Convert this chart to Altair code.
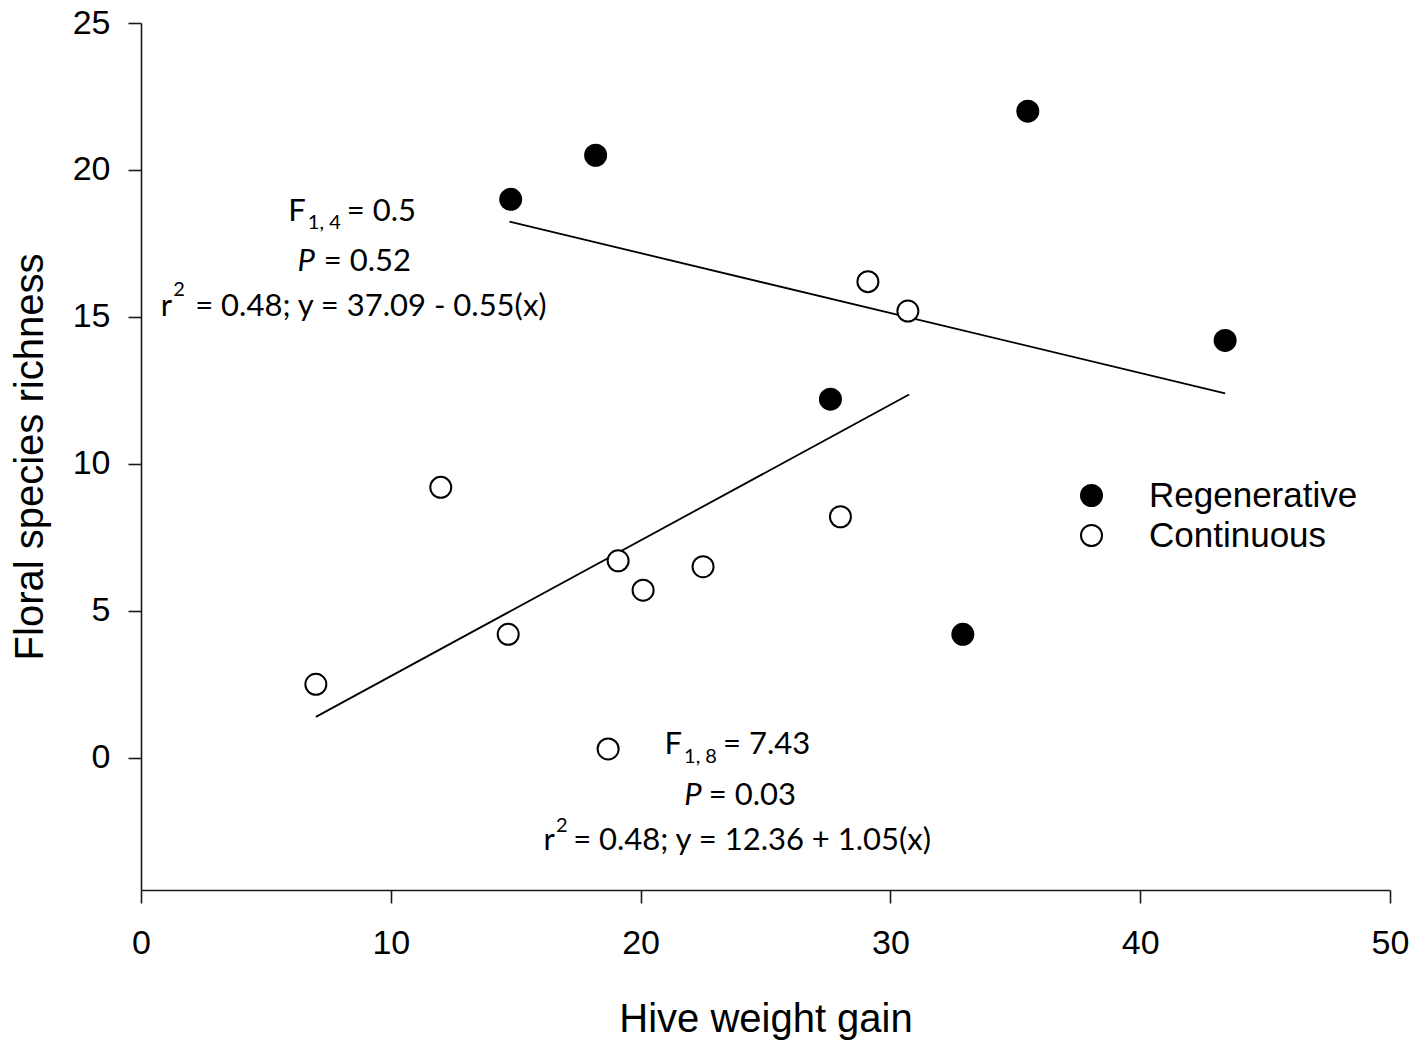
import altair as alt
import pandas as pd

# ---- data ----
groups = ["Regenerative", "Continuous"]

reg_x = [14.8, 18.2, 35.5, 43.4, 27.6, 32.9]
reg_y = [19.0, 20.5, 22.0, 14.2, 12.2, 4.2]

con_x = [29.1, 30.7, 12.0, 19.1, 20.1, 22.5, 28.0, 14.7, 7.0, 18.7]
con_y = [16.2, 15.2, 9.2, 6.7, 5.7, 6.5, 8.2, 4.2, 2.5, 0.3]

fit_group = ["Regenerative", "Regenerative", "Continuous", "Continuous"]
fit_x = [14.75, 43.4, 7.0, 30.75]
fit_y = [18.24, 12.4, 1.39, 12.36]

x_ticks = [0, 10, 20, 30, 40, 50]
y_ticks = [0, 5, 10, 15, 20, 25]

# annotation pieces (text, kind)
ann_text = ["F", "1, 4", "= 0.5", "P", "= 0.52", "r", "2", "= 0.48; y = 37.09 - 0.55(x)",
            "F", "1, 8", "= 7.43", "P", "= 0.03", "r", "2", "= 0.48; y = 12.36 + 1.05(x)"]
ann_kind = ["main_r", "sub", "main_l", "ital_r", "main_l", "main_r", "sub", "main_l",
            "main_r", "sub", "main_l", "ital_r", "main_l", "main_r", "sub", "main_l"]
# annotation anchor points in data units
ann_x = [6.60, 6.68, 8.24, 6.96, 7.32, 1.24, 1.29, 2.17,
         21.66, 21.74, 23.30, 22.45, 22.73, 16.57, 16.61, 17.30]
ann_y = [18.25, 17.98, 18.25, 16.55, 16.55, 15.03, 15.70, 15.03,
         0.12, -0.19, 0.12, -1.62, -1.62, -3.15, -2.54, -3.15]

# ---- tables ----
pts = pd.DataFrame({
    "group": ["Regenerative"] * len(reg_x) + ["Continuous"] * len(con_x),
    "x": reg_x + con_x,
    "y": reg_y + con_y,
})
fits = pd.DataFrame({"group": fit_group, "x": fit_x, "y": fit_y})
ann = pd.DataFrame({"text": ann_text, "kind": ann_kind, "x": ann_x, "y": ann_y})

AX_FONT = "Liberation Sans"
AX_COL = "#1a1a1a"

x_scale = alt.Scale(domain=[0, 50], nice=False, zero=False)
y_scale = alt.Scale(domain=[-4.5, 25], nice=False, zero=False)

x_axis = alt.Axis(values=x_ticks, grid=False, tickSize=13, labelPadding=23,
                  labelFont=AX_FONT, labelFontSize=34, labelColor="black",
                  labelFlush=False, labelOverlap=False,
                  title="Hive weight gain", titleFont=AX_FONT, titleFontSize=40,
                  titleFontWeight="normal", titleColor="black", titlePadding=39,
                  domainColor=AX_COL, tickColor=AX_COL, domainWidth=1.6, tickWidth=1.6)
y_axis = alt.Axis(values=y_ticks, grid=False, tickSize=13, labelPadding=18,
                  labelFont=AX_FONT, labelFontSize=34, labelColor="black",
                  labelFlush=False, labelOverlap=False,
                  title="Floral species richness", titleFont=AX_FONT, titleFontSize=40,
                  titleFontWeight="normal", titleColor="black", titlePadding=22,
                  domainColor=AX_COL, tickColor=AX_COL, domainWidth=1.6, tickWidth=1.6)


def X():
    return alt.X("x:Q", scale=x_scale, axis=x_axis)


def Y():
    return alt.Y("y:Q", scale=y_scale, axis=y_axis)


lines = alt.Chart(fits).mark_line(color="black", strokeWidth=1.8).encode(
    x=X(), y=Y(), detail="group:N"
)

points = alt.Chart(pts).mark_point(
    shape="circle", size=441, stroke="black", strokeWidth=2, opacity=1, fillOpacity=1
).encode(
    x=X(), y=Y(),
    fill=alt.Fill(
        "group:N",
        scale=alt.Scale(domain=groups, range=["black", "white"]),
        legend=alt.Legend(
            title=None, orient="none", legendX=933, legendY=455, padding=0,
            labelFont=AX_FONT, labelFontSize=35, labelColor="black", labelLimit=400,
            symbolType="circle", symbolSize=441, symbolStrokeColor="black",
            symbolStrokeWidth=2, labelOffset=40, rowPadding=4,
        ),
    ),
)

ANN_FONT = "Lato"
kinds = {
    "main_r": dict(align="right", fontSize=31),
    "main_l": dict(align="left", fontSize=31),
    "ital_r": dict(align="right", fontSize=31, fontStyle="italic"),
    "sub": dict(align="left", fontSize=20),
}
text_layers = []
for k, props in kinds.items():
    text_layers.append(
        alt.Chart(ann[ann["kind"] == k]).mark_text(
            baseline="alphabetic", font=ANN_FONT, color="black", **props
        ).encode(x=X(), y=Y(), text="text:N")
    )

chart = alt.layer(lines, points, *text_layers).properties(
    width=1249,
    height=867,
    autosize=alt.AutoSizeParams(type="none"),
    padding={"left": 133, "top": 15, "right": 20, "bottom": 150},
    background="white",
).configure_view(strokeWidth=0)

chart.save("out.html", embed_options={"renderer": "svg", "actions": False})
